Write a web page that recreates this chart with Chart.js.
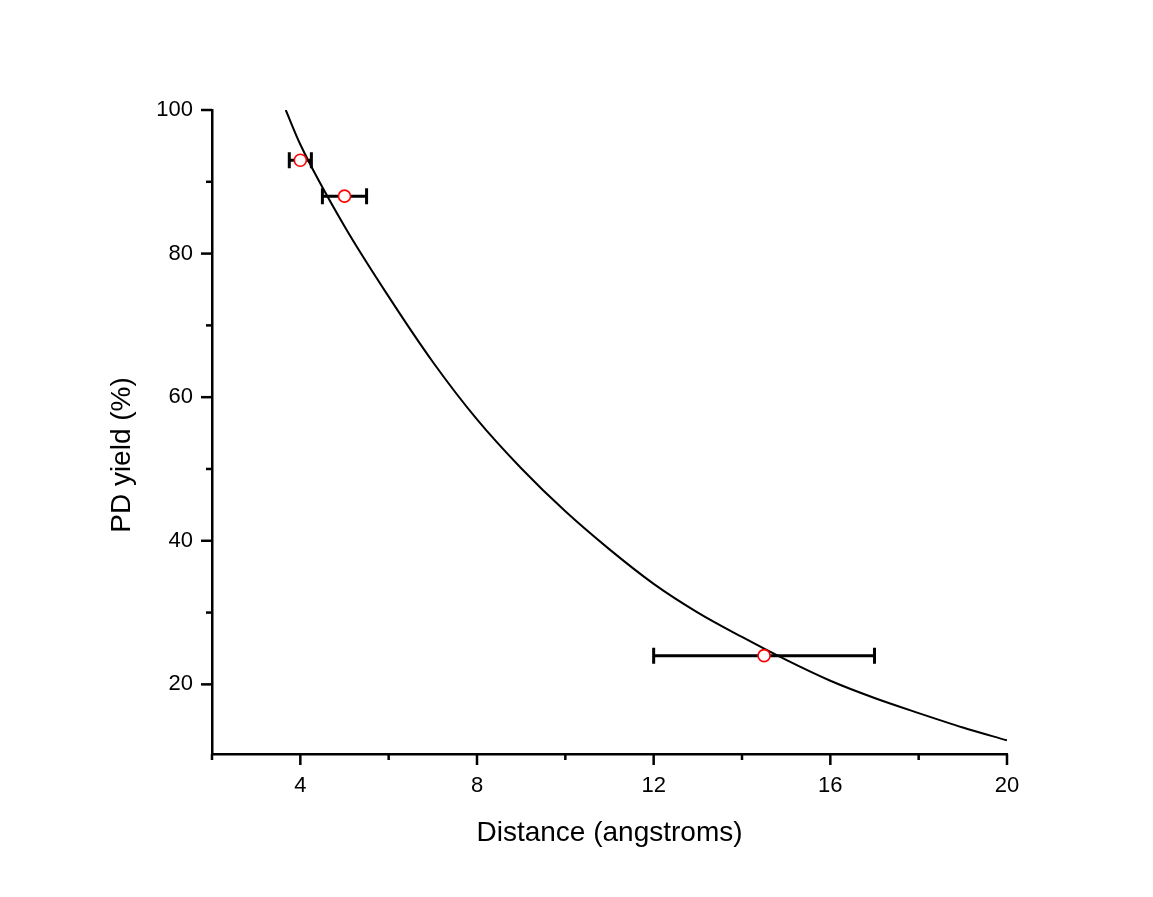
<!DOCTYPE html>
<html>
<head>
<meta charset="utf-8">
<script src="https://cdn.jsdelivr.net/npm/chart.js@4.4.0/dist/chart.umd.min.js"></script>
<style>
  html, body { margin: 0; padding: 0; background: #ffffff; }
  #wrap { width: 1153px; height: 897px; }
</style>
</head>
<body>
<div id="wrap"><canvas id="c" width="1153" height="897"></canvas></div>
<script>
// ---- data ----
const fitX = [3.67, 4, 5, 6, 7, 8, 9, 10, 11, 12, 13, 14, 15, 16, 17, 18, 19, 20];
const fitY = [100, 95.2, 83.8, 74, 64.9, 56.9, 50.1, 44.1, 38.8, 34.0, 30.0, 26.6, 23.4, 20.5, 18.1, 16.0, 14.0, 12.2];

const pointX = [4, 5, 14.5];
const pointY = [93, 88, 24];
const pointXErr = [0.25, 0.5, 2.5];

const xMajorTicks = [4, 8, 12, 16, 20];
const xMinorTicks = [2, 6, 10, 14, 18];
const yMajorTicks = [20, 40, 60, 80, 100];
const yMinorTicks = [30, 50, 70, 90];

const xTitle = 'Distance (angstroms)';
const yTitle = 'PD yield (%)';

const FONT = "'Liberation Sans', Arial, sans-serif";

const fitData = fitX.map((x, i) => ({ x: x, y: fitY[i] }));
const ptData = pointX.map((x, i) => ({ x: x, y: pointY[i], err: pointXErr[i] }));

const errorBarPlugin = {
  id: 'errorBars',
  beforeDatasetsDraw(chart) {
    const ctx = chart.ctx;
    const xs = chart.scales.x, ys = chart.scales.y;
    ctx.save();
    ctx.strokeStyle = '#000';
    ctx.lineWidth = 3;
    ctx.lineCap = 'butt';
    ptData.forEach(p => {
      const x1 = xs.getPixelForValue(p.x - p.err);
      const x2 = xs.getPixelForValue(p.x + p.err);
      const y = ys.getPixelForValue(p.y);
      ctx.beginPath();
      ctx.moveTo(x1, y); ctx.lineTo(x2, y);
      ctx.moveTo(x1, y - 8); ctx.lineTo(x1, y + 8);
      ctx.moveTo(x2, y - 8); ctx.lineTo(x2, y + 8);
      ctx.stroke();
    });
    ctx.restore();
  }
};

const tickMarkPlugin = {
  id: 'tickMarks',
  afterDraw(chart) {
    const ctx = chart.ctx;
    const xs = chart.scales.x, ys = chart.scales.y;
    const area = chart.chartArea;
    ctx.save();
    ctx.strokeStyle = '#000';
    ctx.lineWidth = 2.5;
    const drawX = (v, len) => {
      const px = xs.getPixelForValue(v);
      ctx.beginPath(); ctx.moveTo(px, area.bottom); ctx.lineTo(px, area.bottom + len); ctx.stroke();
    };
    const drawY = (v, len) => {
      const py = ys.getPixelForValue(v);
      ctx.beginPath(); ctx.moveTo(area.left, py); ctx.lineTo(area.left - len, py); ctx.stroke();
    };
    xMajorTicks.forEach(v => drawX(v, 11));
    xMinorTicks.forEach(v => drawX(v, 6));
    yMajorTicks.forEach(v => drawY(v, 11));
    yMinorTicks.forEach(v => drawY(v, 6));

    // y axis title (placed slightly below centre, as in the reference)
    ctx.translate(122, 455);
    ctx.rotate(-Math.PI / 2);
    ctx.fillStyle = '#000';
    ctx.font = "28px " + FONT;
    ctx.textAlign = 'center';
    ctx.textBaseline = 'middle';
    ctx.fillText(yTitle, 0, 0);
    ctx.restore();
  }
};

new Chart(document.getElementById('c'), {
  type: 'scatter',
  data: {
    datasets: [
      {
        type: 'line',
        label: 'fit',
        data: fitData,
        borderColor: '#000',
        borderWidth: 2,
        pointRadius: 0,
        fill: false,
        cubicInterpolationMode: 'monotone',
        order: 2
      },
      {
        label: 'data',
        data: ptData,
        pointStyle: 'circle',
        pointRadius: 6,
        pointBorderWidth: 1.6,
        pointBorderColor: '#ff0000',
        pointBackgroundColor: '#ffffff',
        order: 1
      }
    ]
  },
  options: {
    responsive: false,
    animation: false,
    devicePixelRatio: 1,
    layout: { padding: { left: 107, right: 146, top: 110, bottom: 47 } },
    plugins: {
      legend: { display: false },
      tooltip: { enabled: false }
    },
    scales: {
      x: {
        type: 'linear',
        min: 2,
        max: 20,
        afterBuildTicks: (s) => { s.ticks = xMajorTicks.map(v => ({ value: v })); },
        afterFit: (s) => { s.height = 96; },
        grid: { display: false },
        border: { display: true, color: '#000', width: 2.5 },
        ticks: {
          autoSkip: false,
          maxRotation: 0,
          padding: 11,
          color: '#000',
          font: { family: FONT, size: 22 }
        },
        title: {
          display: true,
          text: xTitle,
          color: '#000',
          font: { family: FONT, size: 28 },
          padding: 0
        }
      },
      y: {
        type: 'linear',
        min: 10.3,
        max: 100,
        afterBuildTicks: (s) => { s.ticks = yMajorTicks.map(v => ({ value: v })); },
        afterFit: (s) => { s.width = 105; },
        grid: { display: false },
        border: { display: true, color: '#000', width: 2.5 },
        ticks: {
          autoSkip: false,
          padding: 11,
          color: '#000',
          font: { family: FONT, size: 22 }
        },
        title: { display: false }
      }
    }
  },
  plugins: [errorBarPlugin, tickMarkPlugin]
});
</script>
</body>
</html>
